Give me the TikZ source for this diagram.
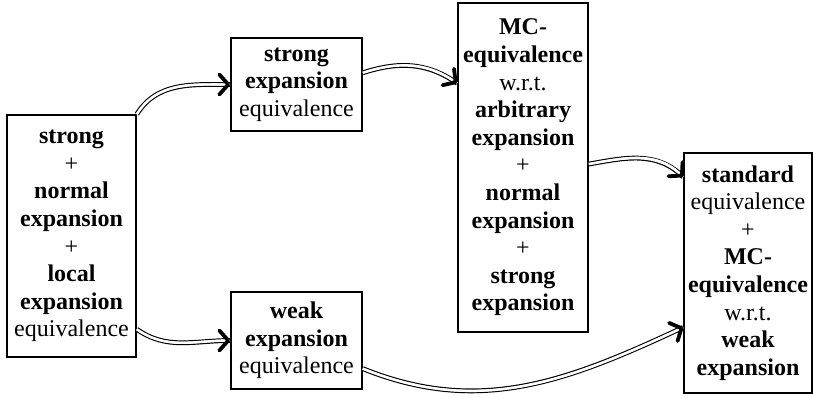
\documentclass[tikz,border=0pt]{standalone}
\usepackage{fontspec}
\setmainfont{Liberation Serif}
\usetikzlibrary{arrows.meta}

\begin{document}
\begin{tikzpicture}[x=0.5pt, y=-0.5pt,
  box/.style={draw, line width=0.8pt, align=center, inner sep=1pt,
    font=\fontsize{12}{13.8}\selectfont},
  imp/.style={double, double distance=1.2pt, line width=0.6pt,
    postaction={draw=white, line width=1.1pt, double=none,
      -{Straight Barb[color=black, round, length=4.5pt, width=10pt, line width=1.9pt]}}}]
  \useasboundingbox (0,0) rectangle (813,397);
  \node[box, minimum width=64.5pt, minimum height=121pt] (ln) at (71.5,236)
    {\textbf{strong}\\+\\\textbf{normal}\\\textbf{expansion}\\+\\\textbf{local}\\\textbf{expansion}\\equivalence};
  \node[box, minimum width=65.5pt, minimum height=46.5pt] (se) at (296.5,84.5)
    {\textbf{strong}\\\textbf{expansion}\\equivalence};
  \node[box, minimum width=65.5pt, minimum height=48.5pt] (we) at (296.5,340.5)
    {\textbf{weak}\\\textbf{expansion}\\equivalence};
  \node[box, minimum width=65pt, minimum height=164.5pt] (mc) at (523,167.5)
    {\textbf{MC-}\\\textbf{equivalence}\\w.r.t.\\\textbf{arbitrary}\\\textbf{expansion}\\+\\\textbf{normal}\\\textbf{expansion}\\+\\\textbf{strong}\\\textbf{expansion}};
  \node[box, minimum width=64pt, minimum height=120pt] (st) at (748,273)
    {\textbf{standard}\\equivalence\\+\\\textbf{MC-}\\\textbf{equivalence}\\w.r.t.\\\textbf{weak}\\\textbf{expansion}};
  \draw[imp] (ln.north east) to[out=58, in=180] (se.west);
  \draw[imp] (ln.-55) to[out=-35, in=180] (we.west);
  \draw[imp] (se.10) to[out=18, in=145] (mc.128);
  \draw[imp] (mc.3) to[out=10, in=135] (st.124);
  \draw[imp] (we.-23) to[out=-22, in=205] (st.220);
\end{tikzpicture}
\end{document}
